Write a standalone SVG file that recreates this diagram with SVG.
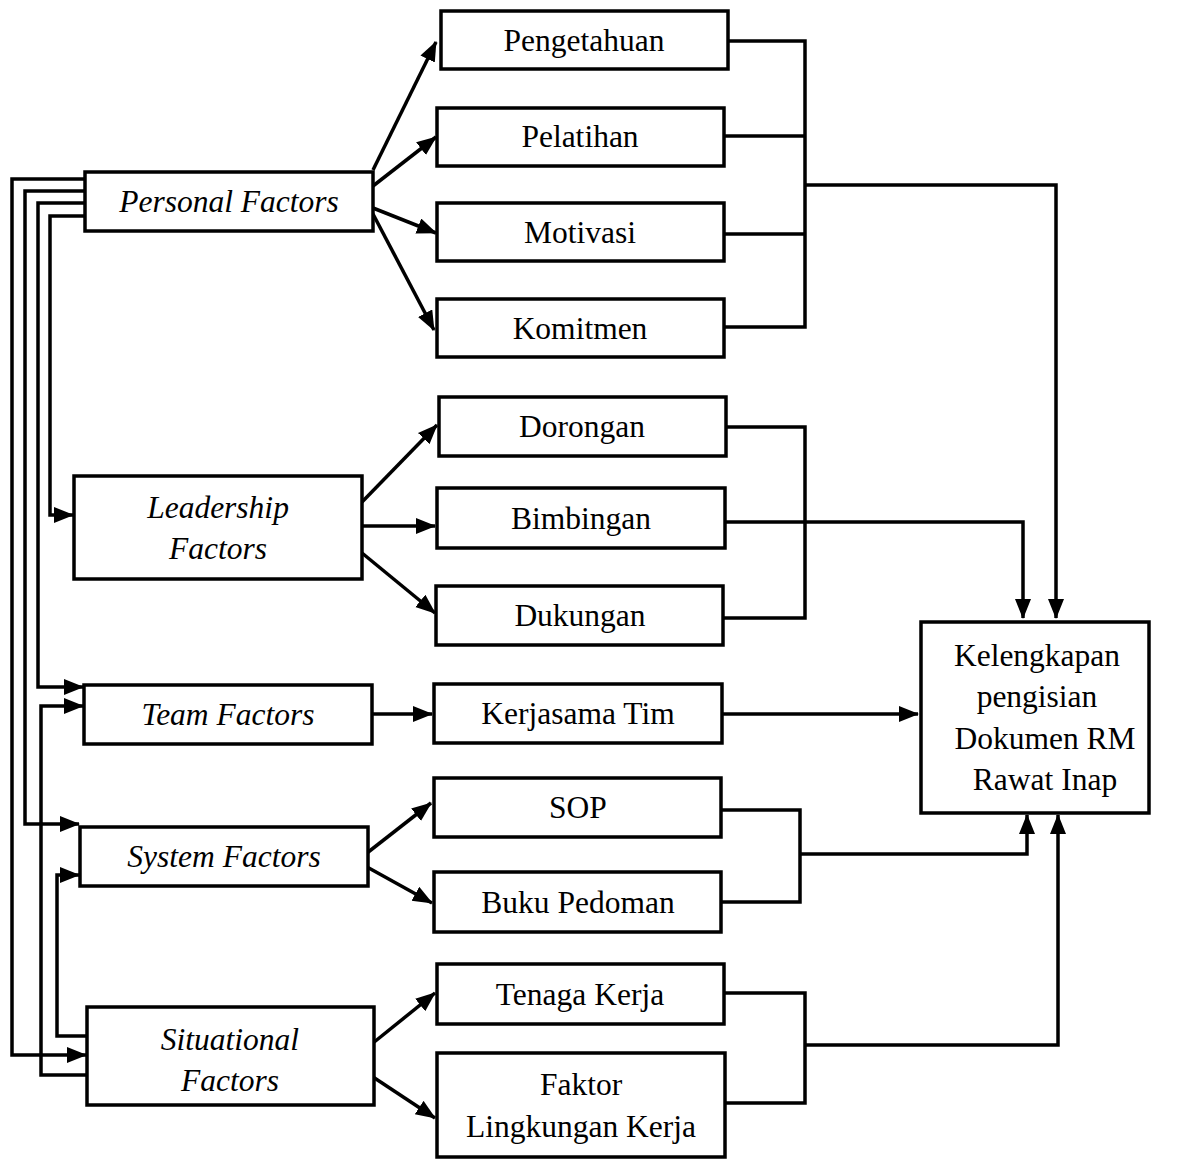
<svg xmlns="http://www.w3.org/2000/svg" width="1184" height="1159" viewBox="0 0 1184 1159">
<style>
rect{fill:#fff;stroke:#000;stroke-width:3.5}
text{font-family:"Liberation Serif","Times New Roman",serif;font-size:31.5px;fill:#000;text-anchor:middle}
.i{font-style:italic}
#connectors line,#connectors polyline{fill:none;stroke:#000;stroke-width:3.5}
.a{marker-end:url(#ah)}
</style>
<defs>
<marker id="ah" markerUnits="userSpaceOnUse" markerWidth="22" markerHeight="18" refX="19" refY="8" orient="auto">
<path d="M0,0 L20,8 L0,16 z" fill="#000"/>
</marker>
</defs>
<rect x="0" y="0" width="1184" height="1159" style="fill:#fff;stroke:none"/>
<g id="connectors">
<line class="a" x1="373" y1="170" x2="436" y2="42"/>
<line class="a" x1="373" y1="186" x2="436" y2="137"/>
<line class="a" x1="373" y1="208" x2="436" y2="233"/>
<line class="a" x1="373" y1="214" x2="434" y2="330"/>
<polyline points="728,41 805,41 805,327 724,327"/>
<line x1="724" y1="136" x2="805" y2="136"/>
<line x1="724" y1="234" x2="805" y2="234"/>
<polyline class="a" points="805,185 1056,185 1056,618"/>
<line class="a" x1="362" y1="502" x2="437" y2="425"/>
<line class="a" x1="362" y1="526" x2="435" y2="526"/>
<line class="a" x1="362" y1="553" x2="435" y2="613"/>
<polyline points="726,427 805,427 805,618 723,618"/>
<polyline class="a" points="725,522 1023,522 1023,618"/>
<line class="a" x1="372" y1="714" x2="432" y2="714"/>
<line class="a" x1="722" y1="714" x2="918" y2="714"/>
<line class="a" x1="367" y1="853" x2="431" y2="803"/>
<line class="a" x1="367" y1="867" x2="432" y2="903"/>
<polyline points="721,810 800,810 800,902 721,902"/>
<polyline class="a" points="800,854 1027,854 1027,815"/>
<line class="a" x1="373" y1="1043" x2="435" y2="993"/>
<line class="a" x1="373" y1="1077" x2="435" y2="1118"/>
<polyline points="724,993 805,993 805,1103 725,1103"/>
<polyline class="a" points="805,1045 1058,1045 1058,815"/>
<polyline class="a" points="85,179 12,179 12,1055 86,1055"/>
<polyline class="a" points="85,191 25,191 25,824 79,824"/>
<polyline class="a" points="85,203 38,203 38,687 83,687"/>
<polyline class="a" points="85,216 50,216 50,515 73,515"/>
<polyline class="a" points="87,1075 41,1075 41,706 83,706"/>
<polyline class="a" points="87,1036 57,1036 57,875 79,875"/>
</g>
<g id="personal"><rect x="85" y="172" width="288" height="59"/><text class="i" x="229" y="212">Personal Factors</text></g>
<g id="pengetahuan"><rect x="441" y="11" width="287" height="58"/><text x="584" y="51">Pengetahuan</text></g>
<g id="pelatihan"><rect x="437" y="108" width="287" height="58"/><text x="580" y="147">Pelatihan</text></g>
<g id="motivasi"><rect x="437" y="203" width="287" height="58"/><text x="580" y="243">Motivasi</text></g>
<g id="komitmen"><rect x="437" y="299" width="287" height="58"/><text x="580" y="339">Komitmen</text></g>
<g id="leadership"><rect x="74" y="476" width="288" height="103"/><text class="i" x="218" y="518">Leadership</text><text class="i" x="218" y="559">Factors</text></g>
<g id="dorongan"><rect x="439" y="397" width="287" height="59"/><text x="582" y="437">Dorongan</text></g>
<g id="bimbingan"><rect x="437" y="488" width="288" height="60"/><text x="581" y="529">Bimbingan</text></g>
<g id="dukungan"><rect x="436" y="586" width="287" height="59"/><text x="580" y="626">Dukungan</text></g>
<g id="team"><rect x="84" y="685" width="288" height="59"/><text class="i" x="228" y="725">Team Factors</text></g>
<g id="kerjasama"><rect x="434" y="684" width="288" height="59"/><text x="578" y="724">Kerjasama Tim</text></g>
<g id="system"><rect x="80" y="827" width="288" height="59"/><text class="i" x="224" y="867">System Factors</text></g>
<g id="sop"><rect x="434" y="778" width="287" height="59"/><text x="578" y="818">SOP</text></g>
<g id="buku"><rect x="434" y="872" width="287" height="60"/><text x="578" y="913">Buku Pedoman</text></g>
<g id="situational"><rect x="87" y="1007" width="287" height="98"/><text class="i" x="230" y="1050">Situational</text><text class="i" x="230" y="1091">Factors</text></g>
<g id="tenaga"><rect x="437" y="964" width="287" height="60"/><text x="580" y="1005">Tenaga Kerja</text></g>
<g id="faktor"><rect x="437" y="1053" width="288" height="104"/><text x="581" y="1095">Faktor</text><text x="581" y="1137">Lingkungan Kerja</text></g>
<g id="kelengkapan"><rect x="921" y="622" width="228" height="191"/><text x="1037" y="666">Kelengkapan</text><text x="1037" y="707">pengisian</text><text x="1045" y="749">Dokumen RM</text><text x="1045" y="790">Rawat Inap</text></g>
</svg>
